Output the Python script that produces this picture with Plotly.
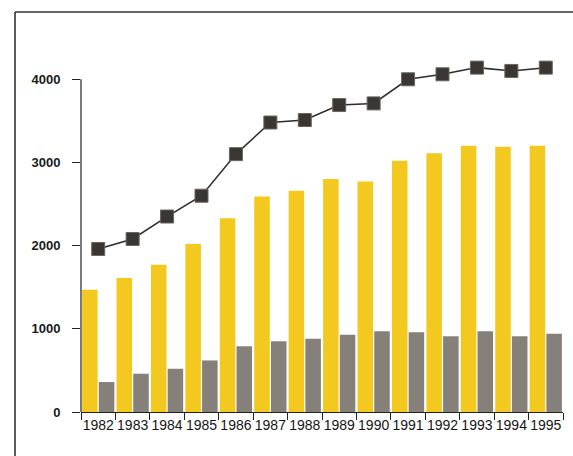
import plotly.graph_objects as go

years = ["1982", "1983", "1984", "1985", "1986", "1987", "1988",
         "1989", "1990", "1991", "1992", "1993", "1994", "1995"]
yellow_vals = [1470, 1610, 1770, 2020, 2330, 2590, 2660,
               2800, 2770, 3020, 3110, 3200, 3190, 3200]
gray_vals = [360, 460, 520, 620, 790, 850, 880,
             930, 970, 960, 910, 970, 910, 940]
line_vals = [1960, 2080, 2350, 2600, 3100, 3480, 3510,
             3690, 3710, 4000, 4060, 4140, 4100, 4140]
y_ticks = [0, 1000, 2000, 3000, 4000]

W, H = 573, 456
L, R, T, B = 81, 10, 46, 44
pw, ph = W - L - R, H - T - B

def px(x):
    return (x - L) / pw

def py(y):
    return (H - B - y) / ph

fig = go.Figure()
fig.add_bar(x=years, y=yellow_vals, marker=dict(color="#F3C91F", line=dict(width=0)),
            name="A")
fig.add_bar(x=years, y=gray_vals, marker=dict(color="#86807A", line=dict(width=0)),
            name="B")
fig.add_scatter(x=years, y=line_vals, mode="lines+markers", cliponaxis=False,
                line=dict(color="#2e2b29", width=1.5),
                marker=dict(symbol="square", size=13, color="#3a3633",
                            line=dict(color="#6a6560", width=1)),
                name="C")

fig.update_layout(
    width=W, height=H,
    margin=dict(l=L, r=R, t=T, b=B, pad=0),
    paper_bgcolor="white", plot_bgcolor="white",
    showlegend=False,
    barmode="group", bargap=0.03, bargroupgap=0.07,
    font=dict(family="Liberation Sans, Arial, sans-serif", size=13, color="#111"),
    xaxis=dict(type="category", range=[-0.5, 13.5], showgrid=False,
               showline=True, linecolor="#222", linewidth=1.3,
               ticks="outside", tickson="boundaries", ticklen=7,
               tickcolor="#222", tickwidth=1.2, zeroline=False,
               tickangle=0, tickfont=dict(size=14, color="#151515")),
    yaxis=dict(range=[0, 4400], showgrid=False, zeroline=False,
               showline=False,
               ticks="outside", ticklen=8, tickcolor="#222", tickwidth=1.2,
               tickvals=y_ticks, ticktext=["<b>%d</b>" % v for v in y_ticks],
               ticklabelstandoff=9, tickfont=dict(size=13, color="#1a1a1a")),
    shapes=[
        dict(type="line", xref="paper", yref="y",
             x0=0, x1=0, y0=0, y1=4000,
             line=dict(color="#222", width=1.2)),
        dict(type="line", xref="paper", yref="paper",
             x0=px(15), x1=px(W + 5), y0=py(12), y1=py(12),
             line=dict(color="#333", width=1.6)),
        dict(type="line", xref="paper", yref="paper",
             x0=px(15), x1=px(15), y0=py(12), y1=py(H + 5),
             line=dict(color="#333", width=1.6)),
    ],
)

fig.write_html("out.html")
